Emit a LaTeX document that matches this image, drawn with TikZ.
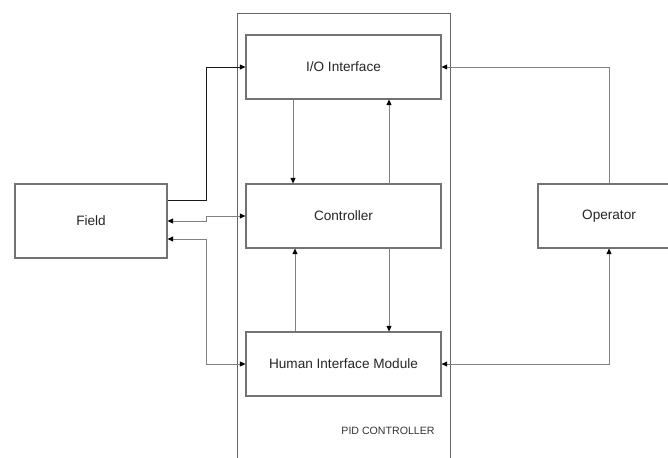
\documentclass[tikz,border=0pt]{standalone}
\usepackage{fontspec}
\setmainfont{Liberation Sans}
\usetikzlibrary{arrows.meta}
\begin{document}
\begin{tikzpicture}[x=1pt,y=-1pt,
  blk/.style={draw=black!55,line width=1.2pt,fill=white,inner sep=0pt,font=\fontsize{13.6}{16}\selectfont,text=black!85},
  conn/.style={draw=black!50,line width=0.9pt,-{Triangle[length=5.5pt,width=5pt,color=black]}},
  bconn/.style={conn,{Triangle[length=5.5pt,width=5pt,color=black]}-{Triangle[length=5.5pt,width=5pt,color=black]}},
  frame/.style={draw=black!60,line width=1pt}]
\path[use as bounding box,clip] (0,0) rectangle (668,457);
\fill[white] (0,0) rectangle (668,457);
% PID controller frame
\draw[frame] (237,470) -- (237,14) -- (450,14) -- (450,470);
\node[font=\fontsize{10.6}{12}\selectfont,text=black!80] (pid) at (388,431) {PID CONTROLLER};
% blocks
\node[blk,minimum width=195pt,minimum height=64pt] (io) at (343.5,67) {I/O Interface};
\node[blk,minimum width=195pt,minimum height=64pt] (ctrl) at (343.5,216) {Controller};
\node[blk,minimum width=195pt,minimum height=64pt] (him) at (343.5,364) {Human Interface Module};
\node[blk,minimum width=152pt,minimum height=74pt] (field) at (91,221) {Field};
\node[blk,minimum width=142pt,minimum height=64pt] (op) at (609,216) {Operator};
% internal vertical connectors
\draw[conn] ([xshift=-50.5pt]io.south) -- ([xshift=-50.5pt]ctrl.north);
\draw[conn] ([xshift=45.5pt]ctrl.north) -- ([xshift=45.5pt]io.south);
\draw[conn] ([xshift=-48.5pt]him.north) -- ([xshift=-48.5pt]ctrl.south);
\draw[conn] ([xshift=45.5pt]ctrl.south) -- ([xshift=45.5pt]him.north);
% field connectors
\draw[conn,draw=black!90] ([yshift=21pt]field.east) -- ++(39,0) |- (io.west);
\draw[bconn] (field.east) -- ++(39,0) |- (ctrl.west);
\draw[bconn] ([yshift=-18pt]field.east) -- ++(39,0) |- (him.west);
% operator connectors
\draw[conn] (op.north) |- (io.east);
\draw[bconn] (him.east) -| (op.south);
\end{tikzpicture}
\end{document}
